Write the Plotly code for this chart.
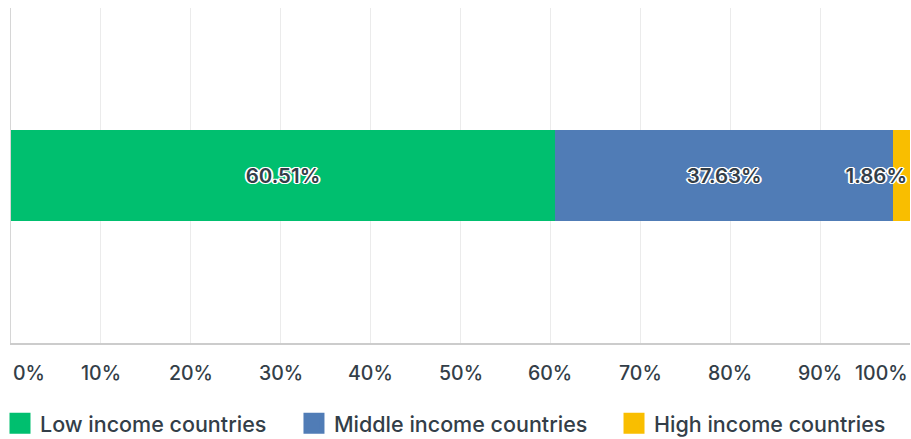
import plotly.graph_objects as go

categories = ["Low income countries", "Middle income countries", "High income countries"]
values = [60.51, 37.63, 1.86]
colors = ["#00BF6F", "#507CB6", "#F9BE00"]
tick_vals = [0, 10, 20, 30, 40, 50, 60, 70, 80, 90, 100]
tick_text = ["0%", "10%", "20%", "30%", "40%", "50%", "60%", "70%", "80%", "90%", "100%"]

FONT = "Inter"
TXT = "#333E48"
shadow = "1px 1px 0 #fff, -1px -1px 0 #fff, 1px -1px 0 #fff, -1px 1px 0 #fff, 2px 0 0 #fff, -2px 0 0 #fff"

legend_ids = ["legend", "legend2", "legend3"]
legend_x = [-0.002, 0.3227, 0.674]

fig = go.Figure()
anchors = ["middle", "middle", "end"]
for name, v, c, a, lid in zip(categories, values, colors, anchors, legend_ids):
    fig.add_trace(go.Bar(
        x=[v], y=["row"], orientation="h", name=name,
        marker=dict(color=c, line=dict(width=0)),
        text=[f"{v:.2f}%"], textposition="inside", insidetextanchor=a,
        textangle=0, constraintext="none", cliponaxis=False,
        textfont=dict(family=FONT, size=20.5, color=TXT, weight=600, shadow=shadow),
        showlegend=False, hoverinfo="skip",
    ))
    fig.add_trace(go.Scatter(
        x=[None], y=[None], mode="markers", name=name, legend=lid,
        marker=dict(symbol="square", size=16, color=c, line=dict(width=5, color=c)),
        showlegend=True,
    ))

for tv, tt in zip(tick_vals, tick_text):
    anchor = "left" if tv == 0 else ("right" if tv == 100 else "center")
    fig.add_annotation(x=tv, y=0, xref="x", yref="paper", text=tt, showarrow=False,
                       xanchor=anchor, yanchor="middle", yshift=-30,
                       font=dict(family=FONT, size=19.5, color=TXT, weight=500))

legend_style = dict(orientation="h", xref="container", yref="container",
                    y=0.036, xanchor="left", yanchor="middle",
                    font=dict(family=FONT, size=21.5, color=TXT, weight=500),
                    itemsizing="trace", bgcolor="rgba(0,0,0,0)")

fig.update_layout(
    width=911, height=439, barmode="stack", bargap=0.73,
    margin=dict(l=11, r=1, t=8, b=96, autoexpand=False),
    plot_bgcolor="white", paper_bgcolor="white",
    xaxis=dict(range=[0, 100], tickvals=tick_vals, showticklabels=False,
               showgrid=True, gridcolor="#EBEBEB", gridwidth=1,
               showline=True, linecolor="#CCCCCC", linewidth=2, zeroline=False),
    yaxis=dict(showticklabels=False, showgrid=False, showline=True,
               linecolor="#D6D6D6", linewidth=1, zeroline=False),
    legend=dict(x=legend_x[0], **legend_style),
    legend2=dict(x=legend_x[1], **legend_style),
    legend3=dict(x=legend_x[2], **legend_style),
    showlegend=True,
)

fig.write_html("out.html", config={"displayModeBar": False},
               post_script="document.body.style.margin='0';document.body.style.overflow='hidden';")
